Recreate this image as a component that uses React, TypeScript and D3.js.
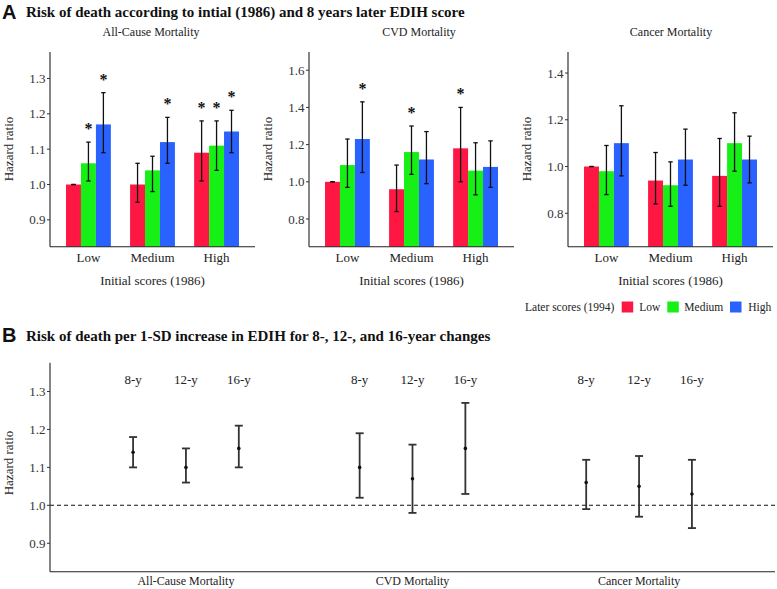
import React from "react";
import * as d3 from "d3";

const initialCategories = ["Low", "Medium", "High"];
const laterLevels = ["Low", "Medium", "High"];
const laterColors = ["#FF1744", "#17F017", "#2962FF"];
const causes = ["All-Cause Mortality", "CVD Mortality", "Cancer Mortality"];

// Panel A: rows = initial score category, columns = later score level
const allCauseHR = [[1.0, 1.06, 1.17], [1.0, 1.04, 1.12], [1.09, 1.11, 1.15]];
const allCauseLo = [[1.0, 1.01, 1.09], [0.95, 0.98, 1.06], [1.01, 1.04, 1.09]];
const allCauseHi = [[1.0, 1.12, 1.26], [1.06, 1.08, 1.19], [1.18, 1.18, 1.21]];
const allCauseSig = [[0, 1, 1], [0, 0, 1], [1, 1, 1]];

const cvdHR = [[1.0, 1.09, 1.23], [0.96, 1.16, 1.12], [1.18, 1.06, 1.08]];
const cvdLo = [[1.0, 0.97, 1.05], [0.84, 1.04, 0.99], [1.0, 0.93, 0.97]];
const cvdHi = [[1.0, 1.23, 1.43], [1.09, 1.3, 1.27], [1.4, 1.21, 1.22]];
const cvdSig = [[0, 0, 1], [0, 1, 0], [1, 0, 0]];

const cancerHR = [[1.0, 0.98, 1.1], [0.94, 0.92, 1.03], [0.96, 1.1, 1.03]];
const cancerLo = [[1.0, 0.88, 0.96], [0.84, 0.83, 0.92], [0.83, 0.98, 0.93]];
const cancerHi = [[1.0, 1.09, 1.26], [1.06, 1.02, 1.16], [1.12, 1.23, 1.13]];
const cancerSig = [[0, 0, 0], [0, 0, 0], [0, 0, 0]];

const aTicks = [
  [0.9, 1.0, 1.1, 1.2, 1.3],
  [0.8, 1.0, 1.2, 1.4, 1.6],
  [0.8, 1.0, 1.2, 1.4],
];
const aDomains = [
  [0.824, 1.375],
  [0.651, 1.698],
  [0.657, 1.49],
];

// Panel B: rows = cause, columns = change interval
const intervals = ["8-y", "12-y", "16-y"];
const bHR = [[1.14, 1.1, 1.15], [1.1, 1.07, 1.15], [1.06, 1.05, 1.03]];
const bLo = [[1.1, 1.06, 1.1], [1.02, 0.98, 1.03], [0.99, 0.97, 0.94]];
const bHi = [[1.18, 1.15, 1.21], [1.19, 1.16, 1.27], [1.12, 1.13, 1.12]];
const bTicks = [0.9, 1.0, 1.1, 1.2, 1.3];
const bDomain = [0.825, 1.376];

const SERIF = "'Liberation Serif', 'Times New Roman', serif";
const SANS = "'Liberation Sans', Arial, sans-serif";

const panelData = [
  { hr: allCauseHR, lo: allCauseLo, hi: allCauseHi, sig: allCauseSig },
  { hr: cvdHR, lo: cvdLo, hi: cvdHi, sig: cvdSig },
  { hr: cancerHR, lo: cancerLo, hi: cancerHi, sig: cancerSig },
];
const titleX = [151, 419, 671];

function BarPanel({ idx }: { idx: number }) {
  const off = idx * 259;
  const left = off + 50;
  const right = off + 255;
  const top = 52;
  const bottom = 246.7;
  const x = d3.scaleLinear().domain([-0.6, 2.6]).range([left, right]);
  const y = d3.scaleLinear().domain(aDomains[idx]).range([bottom, top]);
  const unit = x(1) - x(0);
  const bw = (0.7 / 3) * unit;
  const d = panelData[idx];
  const fmt = d3.format(".1f");
  return (
    <g>
      <text x={titleX[idx]} y={36} textAnchor="middle" fontFamily={SERIF} fontSize={12} fill="#222">
        {causes[idx]}
      </text>
      <text
        transform={`translate(${off + 12.5},${149}) rotate(-90)`}
        textAnchor="middle"
        fontFamily={SERIF}
        fontSize={13}
        fill="#222"
      >
        Hazard ratio
      </text>
      {initialCategories.map((cat, i) =>
        laterLevels.map((lv, j) => {
          const cx = x(i) + (j - 1) * bw;
          const v = d.hr[i][j];
          return (
            <rect
              key={`b${i}${j}`}
              x={cx - bw / 2}
              y={y(v)}
              width={bw}
              height={bottom - y(v)}
              fill={laterColors[j]}
            />
          );
        })
      )}
      {initialCategories.map((cat, i) =>
        laterLevels.map((lv, j) => {
          const cx = x(i) + (j - 1) * bw;
          const lo = d.lo[i][j];
          const hi = d.hi[i][j];
          return (
            <g key={`e${i}${j}`} stroke="#111" strokeWidth={1.3}>
              <line x1={cx} x2={cx} y1={y(lo)} y2={y(hi)} />
              <line x1={cx - 2.2} x2={cx + 2.2} y1={y(lo)} y2={y(lo)} />
              <line x1={cx - 2.2} x2={cx + 2.2} y1={y(hi)} y2={y(hi)} />
            </g>
          );
        })
      )}
      {initialCategories.map((cat, i) =>
        laterLevels.map((lv, j) => {
          if (!d.sig[i][j]) return null;
          const cx = x(i) + (j - 1) * bw;
          return (
            <text
              key={`s${i}${j}`}
              x={cx}
              y={y(d.hi[i][j]) - 8}
              textAnchor="middle"
              fontFamily={SERIF}
              fontWeight="bold"
              fontSize={16}
              fill="#111"
            >
              *
            </text>
          );
        })
      )}
      <line x1={left} x2={left} y1={top} y2={bottom} stroke="#222" strokeWidth={1.1} />
      <line x1={left} x2={right} y1={bottom} y2={bottom} stroke="#222" strokeWidth={1.1} />
      {aTicks[idx].map((t) => (
        <g key={t}>
          <line x1={left - 3} x2={left} y1={y(t)} y2={y(t)} stroke="#333" />
          <text
            x={left - 4.5}
            y={y(t)}
            dy="0.35em"
            textAnchor="end"
            fontFamily={SERIF}
            fontSize={13}
            fill="#333"
          >
            {fmt(t)}
          </text>
        </g>
      ))}
      {initialCategories.map((cat, i) => (
        <text key={cat} x={x(i)} y={261.5} textAnchor="middle" fontFamily={SERIF} fontSize={13} fill="#222">
          {cat}
        </text>
      ))}
      <text x={(left + right) / 2} y={285} textAnchor="middle" fontFamily={SERIF} fontSize={13} fill="#222">
        Initial scores (1986)
      </text>
    </g>
  );
}

function PanelB() {
  const left = 50;
  const right = 775;
  const top = 362.7;
  const bottom = 571.7;
  const x = d3.scaleLinear().domain([-0.6, 2.6]).range([left, right]);
  const y = d3.scaleLinear().domain(bDomain).range([bottom, top]);
  const dodge = 0.7 / 3;
  const fmt = d3.format(".1f");
  return (
    <g>
      <text
        transform={`translate(${12.5},${463}) rotate(-90)`}
        textAnchor="middle"
        fontFamily={SERIF}
        fontSize={13}
        fill="#222"
      >
        Hazard ratio
      </text>
      <line
        x1={left}
        x2={right}
        y1={y(1)}
        y2={y(1)}
        stroke="#111"
        strokeWidth={1.1}
        strokeDasharray="4,3"
      />
      {causes.map((c, i) =>
        intervals.map((iv, j) => {
          const cx = x(i + (j - 1) * dodge);
          return (
            <g key={`p${i}${j}`}>
              <text x={cx} y={384} textAnchor="middle" fontFamily={SERIF} fontSize={13} fill="#222">
                {iv}
              </text>
              <g stroke="#333" strokeWidth={1.8}>
                <line x1={cx} x2={cx} y1={y(bLo[i][j])} y2={y(bHi[i][j])} />
                <line x1={cx - 4} x2={cx + 4} y1={y(bLo[i][j])} y2={y(bLo[i][j])} />
                <line x1={cx - 4} x2={cx + 4} y1={y(bHi[i][j])} y2={y(bHi[i][j])} />
              </g>
              <circle cx={cx} cy={y(bHR[i][j])} r={1.8} fill="#111" />
            </g>
          );
        })
      )}
      <line x1={left} x2={left} y1={top} y2={bottom} stroke="#222" strokeWidth={1.1} />
      <line x1={left} x2={right} y1={bottom} y2={bottom} stroke="#222" strokeWidth={1.1} />
      {bTicks.map((t) => (
        <g key={t}>
          <line x1={left - 3} x2={left} y1={y(t)} y2={y(t)} stroke="#333" />
          <text
            x={left - 4.5}
            y={y(t)}
            dy="0.35em"
            textAnchor="end"
            fontFamily={SERIF}
            fontSize={13}
            fill="#333"
          >
            {fmt(t)}
          </text>
        </g>
      ))}
      {causes.map((c, i) => (
        <text key={c} x={x(i)} y={585} textAnchor="middle" fontFamily={SERIF} fontSize={12} fill="#222">
          {c}
        </text>
      ))}
    </g>
  );
}

function Legend() {
  const sq = [621.7, 667.3, 730];
  const lx = [639.3, 684.3, 748.3];
  return (
    <g fontFamily={SERIF} fontSize={11.5} fill="#222">
      <text x={525} y={310.5}>
        Later scores (1994)
      </text>
      {laterLevels.map((lv, j) => (
        <g key={lv}>
          <rect x={sq[j]} y={301.5} width={11.5} height={11} fill={laterColors[j]} />
          <text x={lx[j]} y={310.5}>
            {lv}
          </text>
        </g>
      ))}
    </g>
  );
}

export default function App() {
  return (
    <svg
      width={777}
      height={589}
      style={{ position: "absolute", left: 0, top: 0, background: "#fff" }}
    >
      <rect width={777} height={589} fill="#fff" />
      <text x={2} y={19} fontFamily={SANS} fontWeight="bold" fontSize={20} fill="#111">
        A
      </text>
      <text x={26} y={17.3} fontFamily={SERIF} fontWeight="bold" fontSize={15} fill="#111">
        Risk of death according to intial (1986) and 8 years later EDIH score
      </text>
      {[0, 1, 2].map((i) => (
        <BarPanel key={i} idx={i} />
      ))}
      <Legend />
      <text x={2} y={341.7} fontFamily={SANS} fontWeight="bold" fontSize={20} fill="#111">
        B
      </text>
      <text x={26} y={340.5} fontFamily={SERIF} fontWeight="bold" fontSize={15} fill="#111">
        Risk of death per 1-SD increase in EDIH for 8-, 12-, and 16-year changes
      </text>
      <PanelB />
    </svg>
  );
}
